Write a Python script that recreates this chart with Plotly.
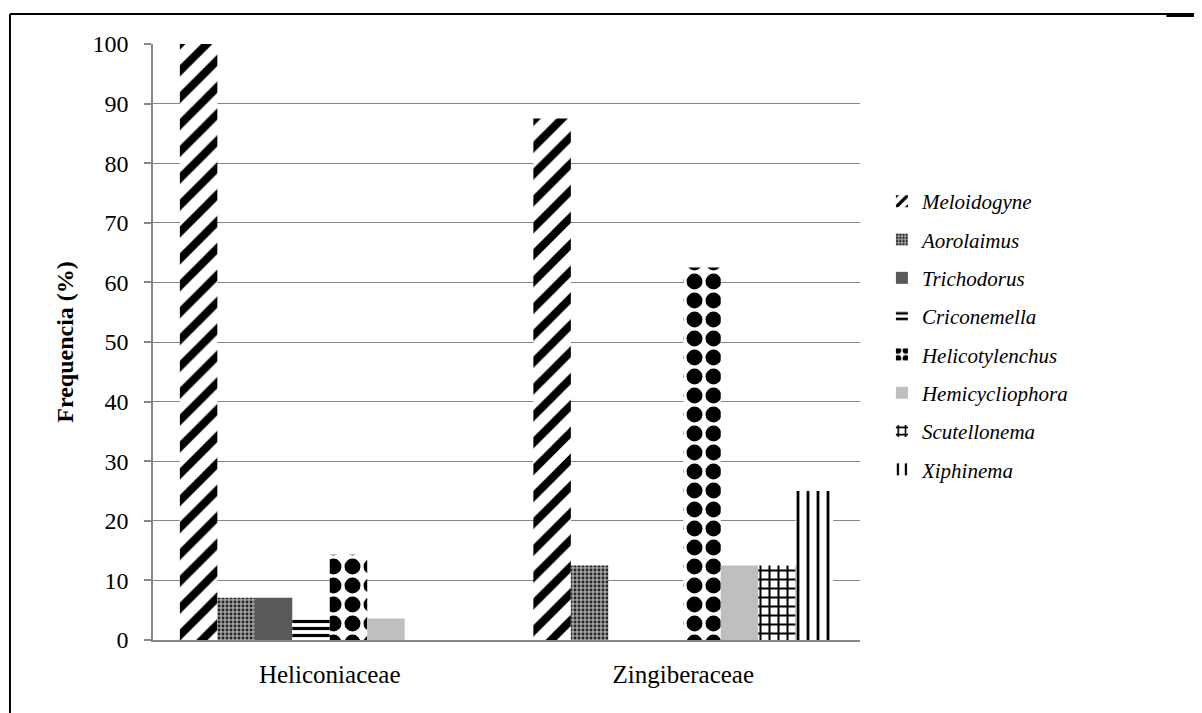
import plotly.graph_objects as go

categories = ["Heliconiaceae", "Zingiberaceae"]
series_names = ["Meloidogyne", "Aorolaimus", "Trichodorus", "Criconemella",
                "Helicotylenchus", "Hemicycliophora", "Scutellonema", "Xiphinema"]
values = {
    "Meloidogyne": [100, 87.5],
    "Aorolaimus": [7.1, 12.5],
    "Trichodorus": [7.1, 0],
    "Criconemella": [3.6, 0],
    "Helicotylenchus": [14.3, 62.5],
    "Hemicycliophora": [3.6, 12.5],
    "Scutellonema": [0, 12.5],
    "Xiphinema": [0, 25],
}
y_ticks = [0, 10, 20, 30, 40, 50, 60, 70, 80, 90, 100]


def pat(shape, size, solidity, bg="white", fg="black"):
    return dict(color=bg, pattern=dict(shape=shape, size=size, solidity=solidity,
                                       fgcolor=fg, bgcolor=bg, fgopacity=1,
                                       fillmode="replace"))


styles = {
    "Meloidogyne": pat("/", 19, 0.42),
    "Aorolaimus": pat(".", 4, 0.4, bg="#a0a0a0", fg="#262626"),
    "Trichodorus": dict(color="#595959"),
    "Criconemella": pat("-", 7, 0.45),
    "Helicotylenchus": pat(".", 19, 0.55),
    "Hemicycliophora": dict(color="#bfbfbf"),
    "Scutellonema": pat("+", 9, 0.4),
    "Xiphinema": pat("|", 10, 0.28),
}

fig = go.Figure()
for i, name in enumerate(series_names):
    m = dict(styles[name])
    m["line"] = dict(width=0)
    fig.add_trace(go.Bar(
        x=categories, y=values[name], name=f"<i>{name}</i>", marker=m,
        legendgroup=f"g{i}",
    ))

font_family = "Liberation Serif"

fig.update_layout(
    width=1194, height=705,
    margin=dict(l=145, r=342, t=36, b=73),
    paper_bgcolor="white", plot_bgcolor="white",
    barmode="group", bargap=0.152, bargroupgap=0,
    font=dict(family=font_family, size=24, color="black"),
    showlegend=True,
    legend=dict(
        x=1.031, y=0.77, xanchor="left", yanchor="top",
        font=dict(family=font_family, size=21),
        tracegroupgap=8, itemwidth=30,
        bgcolor="rgba(0,0,0,0)",
    ),
    xaxis=dict(
        showline=True, linecolor="#868686", linewidth=1.5,
        ticks="", tickfont=dict(family=font_family, size=25), showgrid=False,
        ticklabelstandoff=11,
    ),
    yaxis=dict(
        range=[0, 100], tickvals=y_ticks, ticktext=[str(t) for t in y_ticks],
        showline=True, linecolor="#868686", linewidth=1.5,
        ticks="outside", ticklen=7, tickcolor="#868686", tickwidth=1.5,
        showgrid=True, gridcolor="#868686", gridwidth=1.2,
        zeroline=False, tickfont=dict(family=font_family, size=24), ticklabelstandoff=11,
        title=dict(text="<b>Frequencia (%)</b>", font=dict(family=font_family, size=24), standoff=12),
    ),
)

# outer frame (left and top borders)
fig.add_shape(type="line", xref="paper", yref="paper",
              x0=-0.2023, x1=1.5, y0=1.0503, y1=1.0503,
              line=dict(color="black", width=2))
fig.add_shape(type="line", xref="paper", yref="paper",
              x0=-0.2023, x1=-0.2023, y0=1.0503, y1=-0.2,
              line=dict(color="black", width=2))
fig.add_shape(type="line", xref="paper", yref="paper",
              x0=1.4335, x1=1.5, y0=1.048, y1=1.048,
              line=dict(color="black", width=3))

fig.write_html("out.html")
